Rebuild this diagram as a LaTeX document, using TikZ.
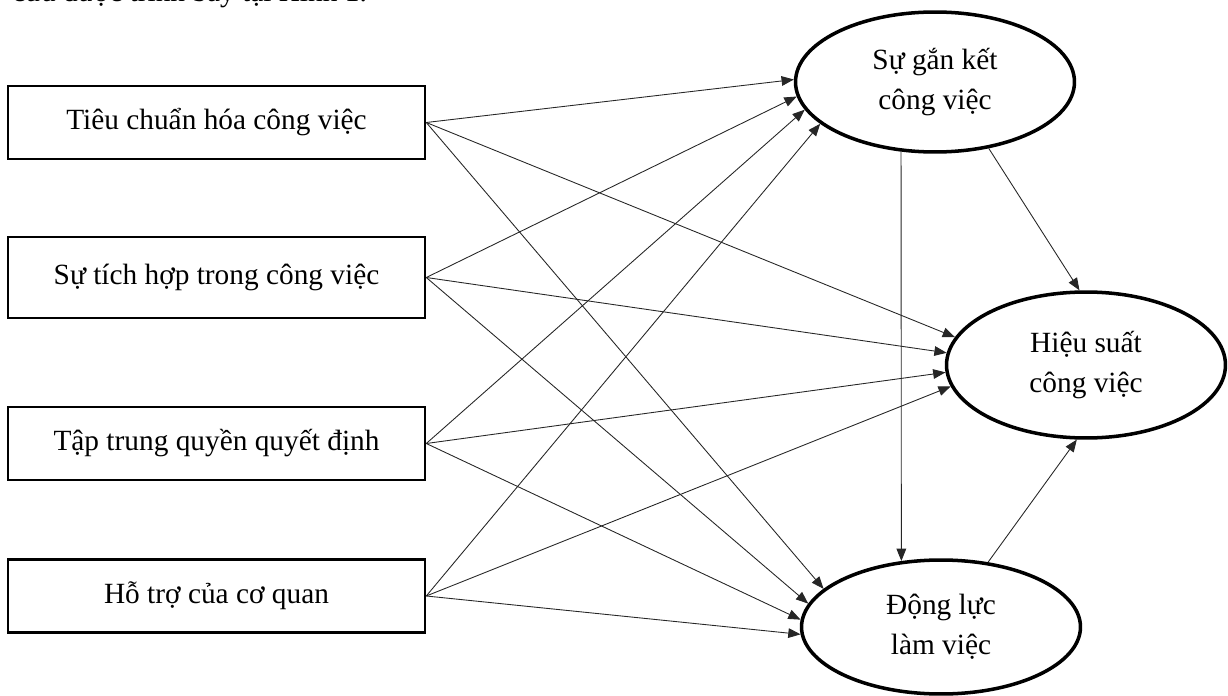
\documentclass[tikz,border=0pt]{standalone}
\usepackage{fontspec}
\setmainfont{Liberation Serif}
\usepackage{tikz}
\usetikzlibrary{shapes,arrows.meta,positioning}

\begin{document}
\begin{tikzpicture}[x=0.02cm,y=-0.02cm,
    factor/.style={draw,line width=1.5pt,minimum width=8.34cm,minimum height=1.46cm,inner sep=0pt,font=\fontsize{16.7}{20}\selectfont},
    latent/.style={draw,ellipse,line width=2pt,minimum width=5.58cm,inner sep=0pt,align=center,font=\fontsize{16.7}{22.8}\selectfont},
    link/.style={-{Triangle[length=7pt,width=5.5pt]},line width=0.5pt,black!85}]
    \useasboundingbox (0,0) rectangle (1228,696);
    \clip (0,0) rectangle (1228,696);
    \node[anchor=base east,font=\fontsize{16.7}{20}\selectfont] (intro) at (373,2) {cứu được trình bày tại Hình 1.};
    \node[factor] (tc) at (216.5,122.5) {Tiêu chuẩn hóa công việc};
    \node[factor,minimum height=1.62cm] (th) at (216.5,277.5) {Sự tích hợp trong công việc};
    \node[factor] (tt) at (216.5,443.5) {Tập trung quyền quyết định};
    \node[factor] (ht) at (216.5,596) {Hỗ trợ của cơ quan};
    \node[latent,minimum height=2.8cm] (gk) at (935,82) {Sự gắn kết\\công việc};
    \node[latent,minimum height=2.92cm] (hs) at (1086,365) {Hiệu suất\\công việc};
    \node[latent,minimum height=2.68cm] (dl) at (941,627) {Động lực\\làm việc};
    \foreach \b/\a in {tc/179,th/186,tt/192,ht/200}
        \draw[link] (\b.east) -- (gk.\a);
    \foreach \b/\a in {tc/168,th/175,tt/183,ht/189}
        \draw[link] (\b.east) -- (hs.\a);
    \foreach \b/\a in {tc/162,th/170,tt/177,ht/183}
        \draw[link] (\b.east) -- (dl.\a);
    \draw[link] (gk.244) -- (dl.121);
    \draw[link] (gk.309) -- (hs.95);
    \draw[link] (dl.54) -- (hs.263);
\end{tikzpicture}
\end{document}
